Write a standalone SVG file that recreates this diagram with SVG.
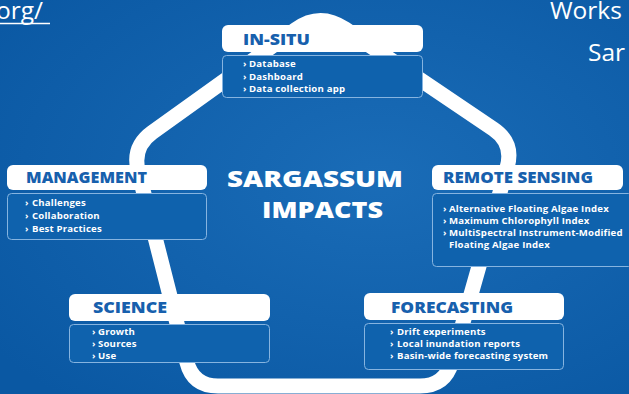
<svg xmlns="http://www.w3.org/2000/svg" width="629" height="394" viewBox="0 0 629 394">
<defs>
<radialGradient id="bg" cx="0.6" cy="0.45" r="0.75">
<stop offset="0" stop-color="#1a6cb7"/>
<stop offset="1" stop-color="#0a58a3"/>
</radialGradient>
<style>
.hdr{fill:#ffffff}
.hdrt{font-family:"Open Sans","Liberation Sans",sans-serif;font-weight:800;font-size:15.5px;fill:#1760ad}
.lst{fill:#0f62ad;stroke:#86b4e0;stroke-width:1}
.it{font-family:"Open Sans","Liberation Sans",sans-serif;font-weight:700;font-size:9.6px;letter-spacing:0.2px;fill:#ffffff}
.ttl{font-family:"Open Sans","Liberation Sans",sans-serif;font-weight:800;font-size:23.5px;fill:#ffffff}
.top{font-family:"Open Sans","Noto Sans",sans-serif;font-size:24.5px;fill:#ffffff}
</style>
</defs>
<rect width="629" height="394" fill="url(#bg)"/>
<text class="top" x="-4" y="19">org/</text>
<line x1="0" y1="23.5" x2="50" y2="23.5" stroke="#ffffff" stroke-width="1.5"/>
<text class="top" x="550" y="19">Works</text>
<text class="top" x="588" y="61">Sar</text>
<g id="connectors">
<path d="M295.6,29.5 Q320,12 344.9,28.8 L493.3,129 Q514,143 507.2,167 L451.8,362 Q445,386 420,386 L218,386 Q193,386 186.8,361.8 L138.2,171.2 Q132,147 152.3,132.4 Z" fill="none" stroke="#ffffff" stroke-width="15" stroke-linejoin="round"/>
</g>
<g id="title">
<text class="ttl" x="227" y="187" textLength="176" lengthAdjust="spacingAndGlyphs">SARGASSUM</text>
<text class="ttl" x="262" y="218" textLength="121" lengthAdjust="spacingAndGlyphs">IMPACTS</text>
</g>
<g id="in-situ">
<rect class="hdr" x="222" y="25" width="201" height="27" rx="6"/>
<text class="hdrt" x="243" y="45" textLength="67" lengthAdjust="spacingAndGlyphs">IN-SITU</text>
<rect class="lst" x="222.5" y="55.5" width="200" height="42" rx="4"/>
<text class="it" x="243" y="67">›<tspan x="249">Database</tspan></text>
<text class="it" x="243" y="79.5">›<tspan x="249">Dashboard</tspan></text>
<text class="it" x="243" y="92">›<tspan x="249">Data collection app</tspan></text>
</g>
<g id="management">
<rect class="hdr" x="7" y="165" width="200" height="25" rx="6"/>
<text class="hdrt" x="26" y="183" textLength="121" lengthAdjust="spacingAndGlyphs">MANAGEMENT</text>
<rect class="lst" x="7.5" y="193.5" width="199" height="46" rx="4"/>
<text class="it" x="25" y="206">›<tspan x="32">Challenges</tspan></text>
<text class="it" x="25" y="219">›<tspan x="32">Collaboration</tspan></text>
<text class="it" x="25" y="232">›<tspan x="32">Best Practices</tspan></text>
</g>
<g id="remote-sensing">
<rect class="hdr" x="432" y="165" width="191" height="25" rx="6"/>
<text class="hdrt" x="443" y="183" textLength="150" lengthAdjust="spacingAndGlyphs">REMOTE SENSING</text>
<rect class="lst" x="432.5" y="193.5" width="200" height="73" rx="4"/>
<text class="it" x="443" y="212">›<tspan x="449">Alternative Floating Algae Index</tspan></text>
<text class="it" x="443" y="224">›<tspan x="449">Maximum Chlorophyll Index</tspan></text>
<text class="it" x="443" y="236">›<tspan x="449">MultiSpectral Instrument-Modified</tspan></text>
<text class="it" x="449" y="248">Floating Algae Index</text>
</g>
<g id="science">
<rect class="hdr" x="69" y="294" width="201" height="27" rx="6"/>
<text class="hdrt" x="93" y="313" textLength="74" lengthAdjust="spacingAndGlyphs">SCIENCE</text>
<rect class="lst" x="69.5" y="324.5" width="200" height="38" rx="4"/>
<text class="it" x="92" y="335">›<tspan x="98">Growth</tspan></text>
<text class="it" x="92" y="347">›<tspan x="98">Sources</tspan></text>
<text class="it" x="92" y="359">›<tspan x="98">Use</tspan></text>
</g>
<g id="forecasting">
<rect class="hdr" x="364" y="293" width="200" height="27" rx="6"/>
<text class="hdrt" x="391" y="313" textLength="122" lengthAdjust="spacingAndGlyphs">FORECASTING</text>
<rect class="lst" x="364.5" y="323.5" width="199" height="46" rx="4"/>
<text class="it" x="390" y="335">›<tspan x="397">Drift experiments</tspan></text>
<text class="it" x="390" y="347">›<tspan x="397">Local inundation reports</tspan></text>
<text class="it" x="390" y="359">›<tspan x="397">Basin-wide forecasting system</tspan></text>
</g>
</svg>
